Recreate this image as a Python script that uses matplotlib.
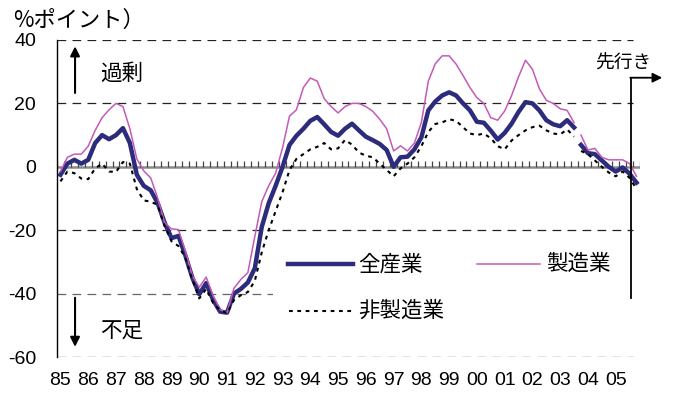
import matplotlib
matplotlib.use("Agg")
import matplotlib.pyplot as plt
from matplotlib.patches import Rectangle
import numpy as np

# 四半期データ（1985Q1〜2003Q3 旧基準、2003Q4〜2005Q4 新基準）
years = ["85", "86", "87", "88", "89", "90", "91", "92", "93", "94", "95",
         "96", "97", "98", "99", "00", "01", "02", "03", "04", "05"]

all_old = [-2.5, 1, 2.2, 1, 2.2, 7.5, 10, 8.7, 10, 12.2,
           7.5, -2.5, -6, -7.4, -11.4, -17.6, -22.5, -21.8, -28, -35,
           -40.2, -36.7, -42, -45.7, -46, -40, -38.5, -36.5, -32, -19,
           -11.5, -6, 0, 6.9, 9.8, 12, 14.5, 15.7, 13.4, 11,
           9.8, 12, 13.6, 11.5, 9.5, 8.4, 7.2, 5.3, 0, 3,
           3.2, 5.5, 9.3, 17.8, 20.6, 22.5, 23.5, 22.5, 20, 17.8,
           14.2, 13.9, 11.4, 8.6, 10.7, 13.6, 17.3, 20.4, 20, 17.8,
           14.7, 13.4, 12.8, 14.7, 12.4]
all_new = [6.9, 4.3, 4, 2, 0, -1.5, -0.2, -2.2, -5]

mfg_old = [-1.5, 3, 4, 4, 6.5, 11.5, 15.5, 18, 20, 19,
           12, 2.5, -1.3, -3.5, -9.8, -17.6, -19.6, -19.8, -26.6, -34.4,
           -38, -34.8, -40.7, -45, -46, -38.3, -35.5, -33.4, -22, -11,
           -6, -2, 6, 16, 18, 25, 28, 27, 21.5, 19,
           17, 19, 20, 20, 19, 17.5, 15, 12, 5, 6.6,
           5, 7.5, 14, 27, 32.5, 35, 35, 32.4, 28.8, 25,
           21.8, 20, 15.5, 14.7, 17.6, 22.5, 28.4, 33.6, 30.8, 24.6,
           21, 20, 18.3, 17.8, 13.9]
mfg_new = [10, 5.3, 5.8, 3, 2.2, 2.2, 2.2, 1, -3]

nonmfg_old = [-4.6, -1.5, -2, -3.7, -3.9, -0.5, 1, -1.5, -1.6, 1.5,
              1, -7, -10.6, -11, -12, -18.7, -23.5, -25, -28.7, -35.5,
              -41.5, -38.5, -43, -45.2, -46.2, -42, -40.5, -39.5, -36, -27,
              -20, -14, -8, -1, 2.5, 4, 5.5, 6.3, 7.5, 5.5,
              5.8, 8.5, 7, 4.5, 3.5, 3, 1, -1, -3, -0.5,
              1, 3, 6.5, 11, 13.5, 14, 15, 14.5, 12.5, 10.5,
              10, 10.5, 9, 6.5, 5.5, 8.3, 10, 11.5, 12.5, 13,
              11.5, 10.5, 10.2, 11.8, 9.5]
nonmfg_new = [5, 4, 2, 0, -1.8, -3, -1.5, -3.5, -7]

x_old = np.arange(len(all_old))
x_new = np.arange(len(all_old), len(all_old) + len(all_new))
n_q = len(all_old) + len(all_new)

NAVY = "#2d2c7c"
PINK = "#c45ab8"
JP = ["Noto Sans CJK JP", "DejaVu Sans"]
NUM = ["Liberation Sans Narrow", "Liberation Sans", "DejaVu Sans"]
DOT = (0, (1.8, 2.2))

fig = plt.figure(figsize=(6.75, 4.03), dpi=100)
ax = fig.add_axes([57 / 675, 46 / 403, 583 / 675, 317 / 403])
ax.set_xlim(-0.5, n_q - 0.5)
ax.set_ylim(-60, 40)

# 目盛線（破線）
for v in [40, 20, -20, -40, -60]:
    ax.hlines(v, -0.5, n_q - 1.5, colors="#666666" if v == -40 else "#222222",
              linestyles=(0, (7, 5)), lw=0.9, zorder=1)

# ゼロの軸線と四半期の目盛
ax.axhline(0, color="#8a8a8a", lw=1.8, zorder=2)
ax.vlines(np.arange(-0.5, n_q, 1), 0, 1.9, colors="#444444", lw=0.9, zorder=2)

for s in ["top", "right", "bottom"]:
    ax.spines[s].set_visible(False)
ax.spines["left"].set_color("black")
ax.spines["left"].set_linewidth(1.0)

ax.set_yticks([40, 20, 0, -20, -40, -60])
ax.set_yticklabels(["40", "20", "0", "-20", "-40", "-60"])
ax.set_xticks(np.arange(0, n_q, 4))
ax.set_xticklabels(years)
ax.tick_params(axis="y", length=0, pad=15)
ax.tick_params(axis="x", length=0, pad=11)
for lab in ax.get_xticklabels() + ax.get_yticklabels():
    lab.set_family(NUM)
    lab.set_fontsize(14)

# 系列
for xs, ys in [(x_old, all_old), (x_new, all_new)]:
    ax.plot(xs, ys, color=NAVY, lw=3.2, solid_joinstyle="round", zorder=3)
for xs, ys in [(x_old, mfg_old), (x_new, mfg_new)]:
    ax.plot(xs, ys, color=PINK, lw=1.1, zorder=3)
for xs, ys in [(x_old, nonmfg_old), (x_new, nonmfg_new)]:
    ax.plot(xs, ys, color="black", lw=1.5, ls=DOT, zorder=3)

# 凡例
ax.add_patch(Rectangle((0.37, 0.11), 0.63, 0.255, transform=ax.transAxes,
                       facecolor="white", edgecolor="none", zorder=4))
ax.plot([0.396, 0.508], [0.293, 0.293], color=NAVY, lw=3.2,
        transform=ax.transAxes, zorder=5)
ax.plot([0.720, 0.828], [0.293, 0.293], color=PINK, lw=1.1,
        transform=ax.transAxes, zorder=5)
ax.plot([0.398, 0.506], [0.145, 0.145], color="black", lw=1.5, ls=DOT,
        transform=ax.transAxes, zorder=5)
ax.text(0.516, 0.293, "全産業", transform=ax.transAxes, family=JP,
        fontsize=15.5, va="center", zorder=5)
ax.text(0.839, 0.293, "製造業", transform=ax.transAxes, family=JP,
        fontsize=15.5, va="center", zorder=5)
ax.text(0.516, 0.145, "非製造業", transform=ax.transAxes, family=JP,
        fontsize=15.5, va="center", zorder=5)

# 過剰・不足の矢印
arrow = dict(arrowstyle="-|>", color="black", lw=1.5, mutation_scale=14,
             shrinkA=0, shrinkB=0)
ax.annotate("", xy=(2.1, 38), xytext=(2.1, 23.3), arrowprops=arrow)
ax.annotate("", xy=(2.1, -56.8), xytext=(2.1, -41.3), arrowprops=arrow)
ax.text(5.7, 29.3, "過剰", family=JP, fontsize=15.5, va="center")
ax.text(5.7, -51.7, "不足", family=JP, fontsize=15.5, va="center")

# 先行き
FORECAST_X = 82.2
ax.plot([FORECAST_X, FORECAST_X], [-41.3, 28.1], color="black", lw=1.3,
        zorder=6)
ax.annotate("", xy=(86.7, 28.1), xytext=(FORECAST_X - 0.1, 28.1),
            arrowprops=dict(arrowstyle="-|>", color="black", lw=1.3,
                            mutation_scale=14, shrinkA=0, shrinkB=0),
            annotation_clip=False, zorder=6)
ax.text(77.0, 32.8, "先行き", family=JP, fontsize=13.5, va="center")

fig.text(13 / 675, 1 - 20 / 403, "%ポイント）", family=JP, fontsize=16,
         va="center")

fig.savefig("out.png", dpi=100)
